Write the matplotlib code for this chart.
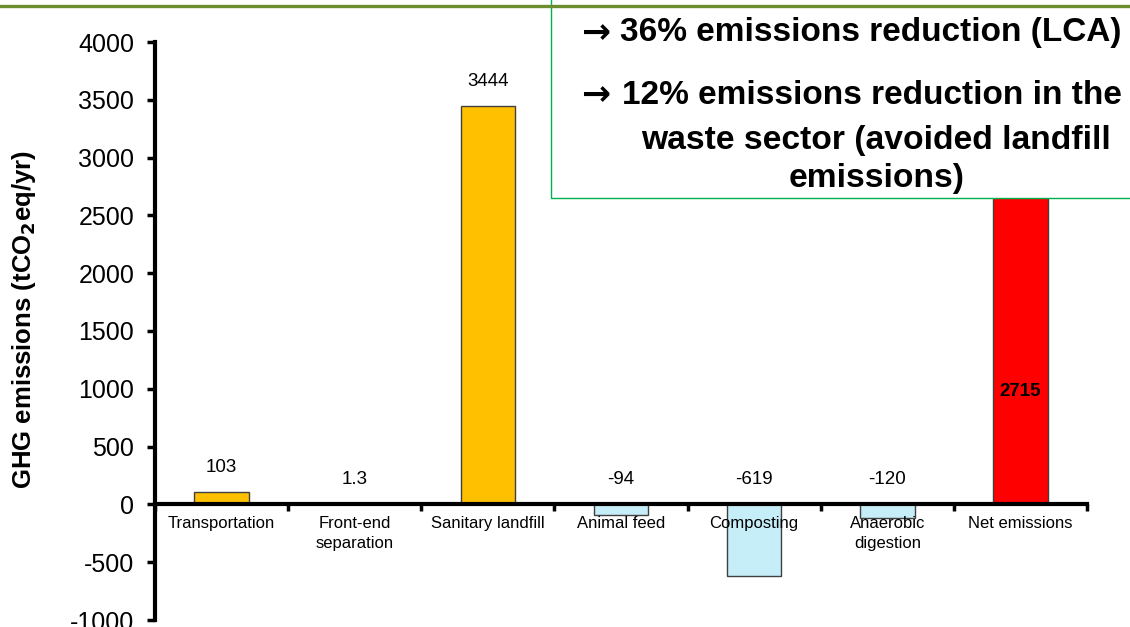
import matplotlib.pyplot as plt
from matplotlib.patches import Rectangle
from matplotlib.lines import Line2D
import numpy as np

plt.rcParams['font.family'] = ['Liberation Sans', 'DejaVu Sans']
plt.rcParams['axes.unicode_minus'] = False

# data
categories = ['Transportation', 'Front-end\nseparation', 'Sanitary landfill',
              'Animal feed', 'Composting', 'Anaerobic\ndigestion', 'Net emissions']
values = [103, 1.3, 3444, -94, -619, -120, 2715]
value_labels = ['103', '1.3', '3444', '-94', '-619', '-120', '2715']
bar_colors = ['#FFC000', '#FFC000', '#FFC000', '#C6EEF8', '#C6EEF8', '#C6EEF8', '#FF0000']
y_ticks = [-1000, -500, 0, 500, 1000, 1500, 2000, 2500, 3000, 3500, 4000]

box_lines = ['36% emissions reduction (LCA)',
             '12% emissions reduction in the',
             'waste sector (avoided landfill',
             'emissions)']
box_arrows = [True, True, False, False]

fig = plt.figure(figsize=(11.3, 6.27), dpi=100)
ax = fig.add_axes([155 / 1130, 1 - 620 / 627, 932 / 1130, 578 / 627])

x = np.arange(len(categories))
ax.bar(x, values, width=0.41, color=bar_colors, edgecolor='#404040',
       linewidth=1.0, zorder=1)

ax.set_xlim(-0.5, len(categories) - 0.5)
ax.set_ylim(-1000, 4000)
ax.set_yticks(y_ticks)
ax.tick_params(axis='y', labelsize=18, length=6, width=2.5, pad=9, direction='out')

# zero line acts as x axis, boundary ticks pointing down
ax.spines['bottom'].set_position(('data', 0))
ax.spines['bottom'].set_linewidth(3)
ax.spines['left'].set_linewidth(3)
ax.spines['top'].set_visible(False)
ax.spines['right'].set_visible(False)
ax.set_xticks(np.arange(len(categories) + 1) - 0.5)
ax.set_xticklabels([])
ax.tick_params(axis='x', which='major', length=5, width=2.5, direction='out')
ax.set_xticks(x, minor=True)
ax.set_xticklabels(categories, minor=True, fontsize=12, linespacing=1.45)
ax.tick_params(axis='x', which='minor', length=0, pad=8)

for i, (v, lab) in enumerate(zip(values, value_labels)):
    if i == len(values) - 1:
        ax.text(i, 980, lab, ha='center', va='center', fontsize=13.5,
                fontweight='bold')
    else:
        ax.annotate(lab, (i, max(v, 0)), xytext=(0, 18), textcoords='offset points',
                    ha='center', va='center', fontsize=13.5)

ax.set_ylabel('GHG emissions (tCO$_\\mathbf{2}$eq/yr)', fontsize=18.5,
              fontweight='bold')
ax.yaxis.set_label_coords(-0.126, 0.52)

# annotation box and top rule
fig.add_artist(Rectangle((551 / 1130, 1 - 198 / 627), 0.6, 0.5,
                         transform=fig.transFigure, facecolor='white',
                         edgecolor='#00B050', linewidth=1.0, zorder=3))
fig.add_artist(Line2D([0, 1], [1 - 5.5 / 627] * 2, transform=fig.transFigure,
                      color='#6B8E2F', linewidth=2.4, zorder=4))

line_x = [620, 622, 876, 877]
line_y = [33, 95, 140, 178]
for t, arrow, lx, ly in zip(box_lines, box_arrows, line_x, line_y):
    if arrow:
        fig.text(596 / 1130, 1 - ly / 627, '\u2192', ha='center', va='center',
                 fontsize=25, fontweight='bold', family='DejaVu Sans', zorder=5)
        fig.text(lx / 1130, 1 - ly / 627, t, ha='left', va='center',
                 fontsize=24, fontweight='bold', zorder=5)
    else:
        fig.text(lx / 1130, 1 - ly / 627, t, ha='center', va='center',
                 fontsize=24.2, fontweight='bold', zorder=5)

fig.savefig('out.png', dpi=100)
